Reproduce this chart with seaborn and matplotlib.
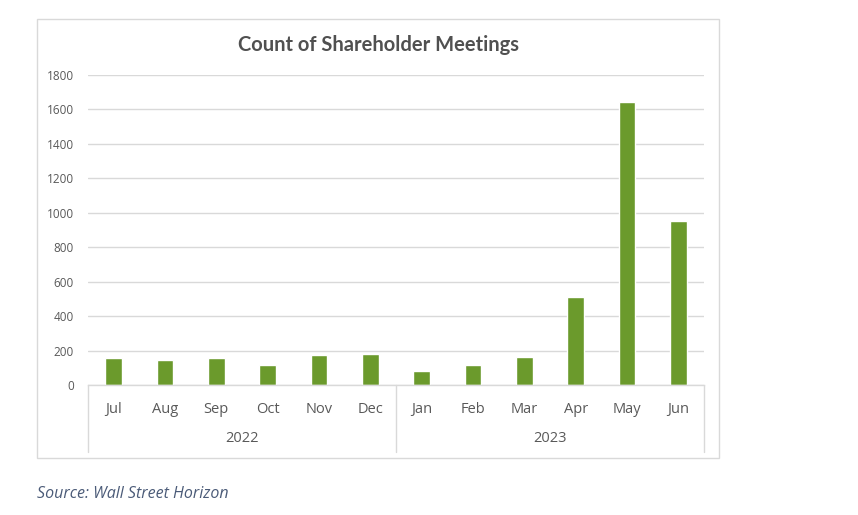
import matplotlib
matplotlib.use("Agg")
import matplotlib.pyplot as plt
import matplotlib.patches as patches
import seaborn as sns
import pandas as pd

# data
months = ["Jul", "Aug", "Sep", "Oct", "Nov", "Dec",
          "Jan", "Feb", "Mar", "Apr", "May", "Jun"]
years = ["2022", "2022", "2022", "2022", "2022", "2022",
         "2023", "2023", "2023", "2023", "2023", "2023"]
meetings = [155, 147, 155, 114, 175, 180, 84, 118, 160, 512, 1642, 950]
year_labels = ["2022", "2023"]

df = pd.DataFrame({"Month": months, "Year": years, "Meetings": meetings})

sns.set_style("white")
plt.rcParams["font.family"] = ["Open Sans", "DejaVu Sans"]

W, H = 858, 515
fig = plt.figure(figsize=(W / 100, H / 100), dpi=100)

def px(x, y):
    return x / W, 1 - y / H

# plot area
left, top = px(88, 75)
right, bottom = px(704, 385)
ax = fig.add_axes([left, bottom, right - left, top - bottom])

sns.barplot(data=df, x="Month", y="Meetings", color="#6b9a2c",
            width=0.32, ax=ax, saturation=1)

ax.set_ylim(0, 1800)
ax.set_xlim(-0.5, len(months) - 0.5)
ax.set_yticks(range(0, 1801, 200))
ax.yaxis.grid(True, color="#d9d9d9", linewidth=1)
ax.set_axisbelow(True)
for s in ["top", "right", "left"]:
    ax.spines[s].set_visible(False)
ax.spines["bottom"].set_color("#d9d9d9")
ax.spines["bottom"].set_linewidth(1)
ax.set_xlabel("")
ax.set_ylabel("")
ax.tick_params(axis="y", length=0, pad=10, labelsize=8.5, labelcolor="#595959")
ax.tick_params(axis="x", length=0, pad=12, labelsize=10.5, labelcolor="#595959")

# multi-level category axis: separators and year labels
tr = ax.get_xaxis_transform()
sep_bottom = -(452 - 385) / (385 - 75)
for xs in [-0.5, 5.5, 11.5]:
    ax.plot([xs, xs], [0, sep_bottom], color="#d9d9d9", linewidth=1,
            transform=tr, clip_on=False)
year_y = -(438 - 385) / (385 - 75)
for i, yr in enumerate(year_labels):
    ax.text(2.5 + 6 * i, year_y, yr, transform=tr, ha="center", va="center",
            fontsize=10.5, color="#595959")

# chart box and title
bx0, by1 = px(37, 19)
bx1, by0 = px(719, 458)
fig.patches.append(patches.Rectangle((bx0, by1 - (by1 - by0)), bx1 - bx0, by1 - by0,
                                     transform=fig.transFigure, fill=False,
                                     edgecolor="#d9d9d9", linewidth=1))
tx, ty = px(378, 45)
fig.text(tx, ty, "Count of Shareholder Meetings", ha="center", va="center",
         fontsize=14.5, fontweight="bold", color="#505050",
         family=["Lato", "DejaVu Sans"])

sx, sy = px(37, 494)
fig.text(sx, sy, "Source: Wall Street Horizon", ha="left", va="center",
         fontsize=11.5, style="italic", color="#4b5b78")

fig.savefig("out.png", dpi=100)
